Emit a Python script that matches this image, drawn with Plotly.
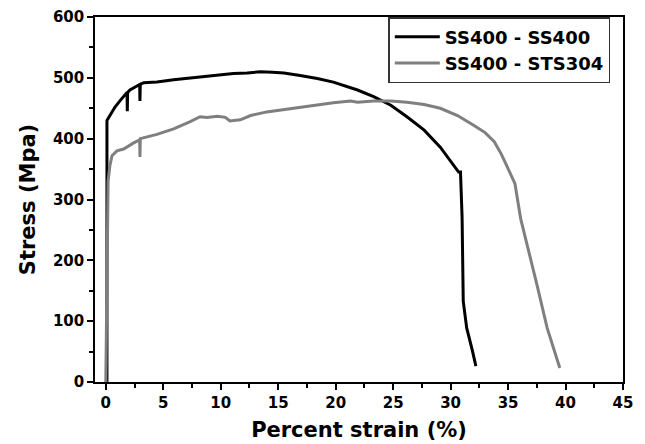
import plotly.graph_objects as go

# SS400 - SS400 (black)
ss_x = [0, 0.1, 0.1, 0.4, 0.8, 1.26, 1.7, 1.85, 1.87, 1.9, 2.1, 2.6, 2.95, 2.97, 3.0, 3.3,
        4.45, 5.9, 7.35, 8.8, 10.0, 11.1, 12.3, 13.45, 14.5, 15.5, 16.9, 18.4, 19.8, 21.3,
        21.9, 23.3, 24.8, 26.2, 27.7, 29.1, 30.3, 30.7, 30.86, 31.0, 31.1, 31.4, 31.9, 32.2]
ss_y = [0, 0, 430, 440, 452, 463, 472, 476, 445, 476, 480, 486, 489, 462, 489, 492,
        493, 497, 500, 503, 505, 507, 508, 510, 509, 508, 504, 499, 493, 484,
        480, 469, 455, 436, 414, 386, 356, 345, 345, 271, 133, 89, 51, 26]

# SS400 - STS304 (gray)
sts_x = [0, 0.05, 0.1, 0.2, 0.35, 0.54, 0.97, 1.55, 2.42, 2.95, 2.97, 3.0, 4.45, 5.9, 7.35,
         8.2, 8.8, 9.7, 10.4, 10.8, 11.7, 12.6, 14.0, 15.5, 16.9, 18.4, 19.8, 21.3, 21.9,
         23.3, 24.8, 26.2, 27.7, 29.1, 30.6, 32.0, 33.0, 33.8, 34.4, 34.8, 35.35, 35.6,
         36.1, 36.8, 37.5, 38.4, 39.5]
sts_y = [0, 100, 250, 330, 355, 372, 380, 383, 393, 398, 370, 400, 407, 416, 428,
         436, 435, 437, 435, 429, 431, 438, 444, 448, 452, 456, 459, 462, 460,
         462, 462, 460, 456, 450, 438, 422, 410, 395, 375, 359, 337, 326,
         268, 216, 161, 89, 23]

x_ticks = [0, 5, 10, 15, 20, 25, 30, 35, 40, 45]
y_ticks = [0, 100, 200, 300, 400, 500, 600]

FONT = "DejaVu Sans"

fig = go.Figure()
fig.add_trace(go.Scatter(x=ss_x, y=ss_y, mode="lines", name="SS400 - SS400",
                         line=dict(color="#000000", width=3)))
fig.add_trace(go.Scatter(x=sts_x, y=sts_y, mode="lines", name="SS400 - STS304",
                         line=dict(color="#7f7f7f", width=3)))

axis_common = dict(
    showline=True, linecolor="black", linewidth=1.5, mirror=True,
    ticks="outside", ticklen=6, tickwidth=1.5, tickcolor="black",
    showgrid=False, zeroline=False, automargin=False,
    tickfont=dict(family=FONT, size=15, color="black", weight="bold"),
)

fig.update_xaxes(range=[-0.94, 45], tickvals=x_ticks,
                 minor=dict(dtick=2.5, tick0=0, ticks="outside", ticklen=4, tickwidth=1.5, tickcolor="black"),
                 title=dict(text="<b>Percent strain (%)</b>", font=dict(family=FONT, size=21, color="black"), standoff=12),
                 **axis_common)
fig.update_yaxes(range=[0, 600], tickvals=y_ticks,
                 minor=dict(dtick=50, tick0=0, ticks="outside", ticklen=4, tickwidth=1.5, tickcolor="black"),
                 title=dict(text="<b>Stress (Mpa)</b>", font=dict(family=FONT, size=21, color="black"), standoff=12),
                 **axis_common)

fig.update_layout(
    width=645, height=444,
    margin=dict(l=95, r=22, t=17, b=62),
    plot_bgcolor="white", paper_bgcolor="white",
    legend=dict(x=0.5555, y=1.0, xanchor="left", yanchor="top",
                bordercolor="#333333", borderwidth=1.5, bgcolor="white",
                itemwidth=45, entrywidth=222,
                font=dict(family=FONT, size=18, color="black", weight="bold")),
)

fig.write_html("out.html", config={"displayModeBar": False},
               post_script="document.body.style.margin='0';")
